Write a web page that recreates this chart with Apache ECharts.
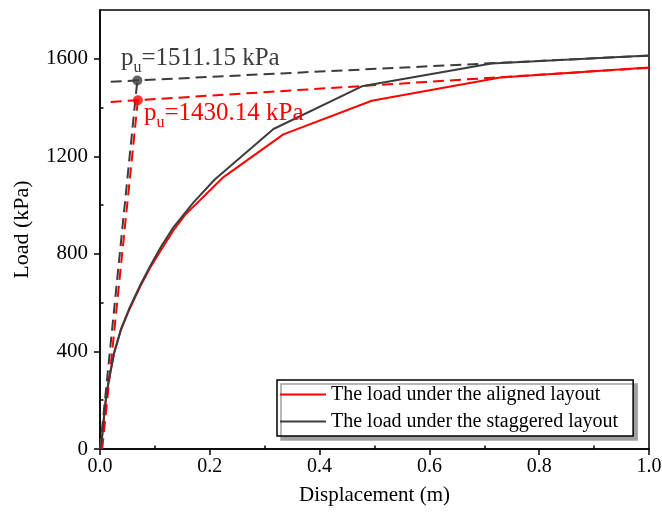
<!DOCTYPE html>
<html>
<head>
<meta charset="utf-8">
<script src="https://cdn.jsdelivr.net/npm/echarts@6/dist/echarts.min.js"></script>
<style>
  html, body { margin: 0; padding: 0; background: #fff; }
  #chart { width: 662px; height: 515px; }
</style>
</head>
<body>
<div id="chart"></div>
<script>
// Load–displacement curves [displacement (m), load (kPa)]
const alignedCurve = [[0, 0], [0.003, 30], [0.006, 100], [0.01, 190], [0.016, 280], [0.026, 395],
  [0.038, 487], [0.053, 570], [0.073, 665], [0.091, 742], [0.11, 812], [0.134, 897], [0.155, 960],
  [0.225, 1115], [0.334, 1290], [0.495, 1428], [0.729, 1523], [1.0, 1564]];
const staggeredCurve = [[0, 0], [0.003, 32], [0.006, 102], [0.01, 192], [0.016, 282], [0.026, 398],
  [0.038, 490], [0.053, 574], [0.073, 671], [0.091, 748], [0.11, 825], [0.134, 910], [0.17, 1010],
  [0.209, 1105], [0.316, 1312], [0.477, 1487], [0.713, 1581], [1.0, 1613]];

// Ultimate bearing capacity points
const puAligned = [0.069, 1430.14];
const puStaggered = [0.068, 1511.15];

// Tangent construction lines (initial stiffness and residual branch)
const alignedInitialTangent = [[0.004, 0], [0.069, 1430.14]];
const alignedResidualTangent = [[0.0195, 1423], [1.0, 1563]];
const staggeredInitialTangent = [[0, 0], [0.068, 1511.15]];
const staggeredResidualTangent = [[0.0195, 1506], [1.0, 1613]];

// Axis ticks
const xMajorTicks = [0, 0.2, 0.4, 0.6, 0.8, 1.0];
const xMinorTicks = [0.1, 0.3, 0.5, 0.7, 0.9];
const yMajorTicks = [0, 400, 800, 1200, 1600];
const yMinorTicks = [200, 600, 1000, 1400];

const seriesNames = ['The load under the aligned layout', 'The load under the staggered layout'];

const RED = '#ff0000';
const DARK = '#3c3c3c';
const FONT = '"Liberation Serif", "Times New Roman", serif';

const chart = echarts.init(document.getElementById('chart'), null, { renderer: 'canvas' });

const axisBase = {
  type: 'value',
  axisLine: { show: true, onZero: false, lineStyle: { color: '#000', width: 1.5 } },
  splitLine: { show: false },
  nameMoveOverlap: false
};

function dashed(data, color) {
  return {
    type: 'line', data: data, symbol: 'none', silent: true, z: 3,
    lineStyle: { color: color, width: 2, type: [11, 6] }
  };
}

const labelRich = function (color) {
  return {
    b: { fontFamily: FONT, fontSize: 25, color: color, lineHeight: 25, verticalAlign: 'top', opacity: 1 },
    s: { fontFamily: FONT, fontSize: 16, color: color, lineHeight: 16, padding: [14, 0, 0, 0], verticalAlign: 'top', opacity: 1 }
  };
};

chart.setOption({
  animation: false,
  backgroundColor: '#fff',
  grid: { left: 100, right: 13, top: 10, bottom: 66, show: true, borderColor: '#000', borderWidth: 1.5,
    containLabel: false, outerBoundsMode: 'none' },
  xAxis: [
    Object.assign({}, axisBase, {
      min: 0, max: 1, interval: 0.2,
      name: 'Displacement (m)', nameLocation: 'middle', nameGap: 36,
      nameTextStyle: { fontFamily: FONT, fontSize: 21, color: '#000' },
      axisTick: { show: true, inside: false, length: 6, lineStyle: { color: '#000', width: 1.5 }, customValues: xMajorTicks },
      axisLabel: { fontFamily: FONT, fontSize: 20, color: '#000', margin: 8, customValues: xMajorTicks,
        formatter: v => v.toFixed(1) }
    }),
    Object.assign({}, axisBase, {
      min: 0, max: 1, interval: 0.1,
      axisLine: { show: false },
      axisTick: { show: true, inside: false, length: 3.5, lineStyle: { color: '#000', width: 1.5 }, customValues: xMinorTicks },
      axisLabel: { show: false }
    })
  ],
  yAxis: [
    Object.assign({}, axisBase, {
      min: 0, max: 1800, interval: 400,
      name: 'Load (kPa)', nameLocation: 'middle', nameGap: 67,
      nameTextStyle: { fontFamily: FONT, fontSize: 22, color: '#000' },
      axisTick: { show: true, inside: false, length: 6, lineStyle: { color: '#000', width: 1.5 }, customValues: yMajorTicks },
      axisLabel: { fontFamily: FONT, fontSize: 21, color: '#000', margin: 12, customValues: yMajorTicks,
        formatter: v => String(v) }
    }),
    Object.assign({}, axisBase, {
      min: 0, max: 1800, interval: 200,
      axisLine: { show: false },
      axisTick: { show: true, inside: false, length: 3.5, lineStyle: { color: '#000', width: 1.5 }, customValues: yMinorTicks },
      axisLabel: { show: false }
    })
  ],
  legend: {
    data: seriesNames,
    orient: 'vertical',
    left: 277, top: 380,
    icon: 'rect',
    itemWidth: 46, itemHeight: 2, itemGap: 4,
    padding: [3, 15, 3, 3],
    backgroundColor: '#fff',
    borderColor: '#000', borderWidth: 1.5, borderRadius: 0,
    shadowColor: '#a0a0a0', shadowBlur: 0, shadowOffsetX: 4, shadowOffsetY: 4,
    textStyle: { fontFamily: FONT, fontSize: 20, color: '#000', lineHeight: 23 }
  },
  series: [
    dashed(staggeredResidualTangent, DARK),
    dashed(staggeredInitialTangent, DARK),
    dashed(alignedResidualTangent, RED),
    dashed(alignedInitialTangent, RED),
    {
      name: seriesNames[0], type: 'line', data: alignedCurve, symbol: 'none', z: 4,
      color: RED, lineStyle: { color: RED, width: 2 }
    },
    {
      name: seriesNames[1], type: 'line', data: staggeredCurve, symbol: 'none', z: 4,
      color: DARK, lineStyle: { color: DARK, width: 2 }
    },
    {
      type: 'scatter', data: [puStaggered], symbolSize: 10, z: 6, silent: true,
      itemStyle: { color: DARK },
      label: {
        show: true, position: 'top', distance: 2, offset: [63, -3], color: DARK, opacity: 1,
        formatter: '{b|p}{s|u}{b|=' + puStaggered[1].toFixed(2) + ' kPa}',
        rich: labelRich(DARK)
      }
    },
    {
      type: 'scatter', data: [puAligned], symbolSize: 10, z: 6, silent: true,
      itemStyle: { color: RED },
      label: {
        show: true, position: 'right', distance: 1, offset: [0, 13], color: RED, opacity: 1,
        formatter: '{b|p}{s|u}{b|=' + puAligned[1].toFixed(2) + ' kPa}',
        rich: labelRich(RED)
      }
    }
  ]
});
</script>
</body>
</html>
